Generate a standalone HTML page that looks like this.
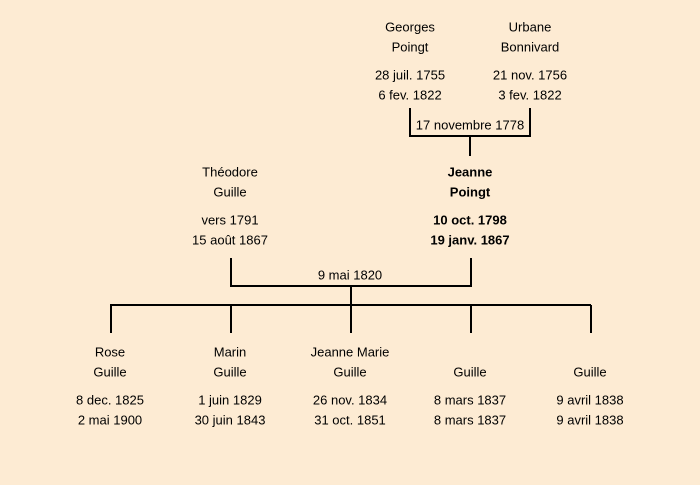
<!DOCTYPE html>
<html><head><meta charset="utf-8"><style>
html,body{margin:0;padding:0;background:#fdebd3;}
svg{display:block}
text{font-family:"Liberation Sans",sans-serif;font-size:13px;fill:#000;text-anchor:middle;dominant-baseline:central}
.b{font-weight:bold}
</style></head><body>
<svg width="700" height="485" viewBox="0 0 700 485">
<rect width="700" height="485" fill="#fdebd3"/>
<g stroke="#000" stroke-width="2" fill="none">
<path d="M410 108V136H530V108M470 136V156"/>
<path d="M231 258V286H471V258M351 286V305"/>
<path d="M110 305H591M111 305V333M231 305V333M351 305V333M471 305V333M591 305V333"/>
</g>
<text x="410" y="27">Georges</text><text x="410" y="47">Poingt</text>
<text x="410" y="75">28 juil. 1755</text><text x="410" y="95">6 fev. 1822</text>
<text x="530" y="27">Urbane</text><text x="530" y="47">Bonnivard</text>
<text x="530" y="75">21 nov. 1756</text><text x="530" y="95">3 fev. 1822</text>
<text x="470" y="125">17 novembre 1778</text>
<text x="230" y="172">Théodore</text><text x="230" y="192">Guille</text>
<text x="230" y="220">vers 1791</text><text x="230" y="240">15 août 1867</text>
<text class="b" x="470" y="172">Jeanne</text><text class="b" x="470" y="192">Poingt</text>
<text class="b" x="470" y="220">10 oct. 1798</text><text class="b" x="470" y="240">19 janv. 1867</text>
<text x="350" y="275">9 mai 1820</text>
<text x="110" y="352">Rose</text><text x="110" y="372">Guille</text>
<text x="110" y="400">8 dec. 1825</text><text x="110" y="420">2 mai 1900</text>
<text x="230" y="352">Marin</text><text x="230" y="372">Guille</text>
<text x="230" y="400">1 juin 1829</text><text x="230" y="420">30 juin 1843</text>
<text x="350" y="352">Jeanne Marie</text><text x="350" y="372">Guille</text>
<text x="350" y="400">26 nov. 1834</text><text x="350" y="420">31 oct. 1851</text>
<text x="470" y="372">Guille</text>
<text x="470" y="400">8 mars 1837</text><text x="470" y="420">8 mars 1837</text>
<text x="590" y="372">Guille</text>
<text x="590" y="400">9 avril 1838</text><text x="590" y="420">9 avril 1838</text>
</svg>
</body></html>
